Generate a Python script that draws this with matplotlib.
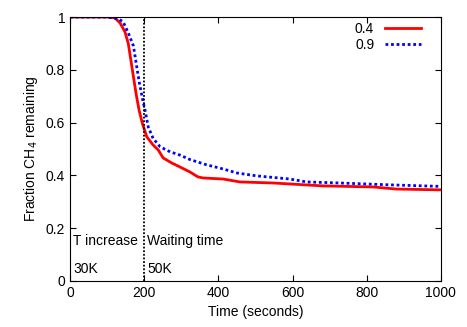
import numpy as np
import matplotlib
matplotlib.use("Agg")
import matplotlib.pyplot as plt

plt.rcParams['font.family'] = ['Liberation Sans', 'DejaVu Sans']

# fraction CH4 remaining
t_red = [0, 50, 100, 121, 135, 148, 157, 164, 171, 178, 186, 195, 207, 224, 238,
         251, 274, 296, 323, 345, 359, 413, 458, 548, 682, 817, 880, 1000]
f_red = [1.0, 1.0, 1.0, 0.997, 0.977, 0.944, 0.90, 0.837, 0.773, 0.71, 0.648, 0.597,
         0.546, 0.515, 0.496, 0.466, 0.447, 0.432, 0.413, 0.394, 0.39, 0.386, 0.375,
         0.371, 0.36, 0.356, 0.348, 0.345]

t_blue = [0, 50, 100, 130, 143, 157, 171, 180, 187, 196, 202, 211, 224, 243, 270,
          296, 323, 368, 413, 450, 503, 593, 638, 727, 862, 1000]
f_blue = [1.0, 1.0, 1.0, 0.993, 0.982, 0.94, 0.89, 0.81, 0.75, 0.686, 0.648, 0.583,
          0.54, 0.508, 0.489, 0.477, 0.46, 0.44, 0.424, 0.409, 0.398, 0.386, 0.375,
          0.371, 0.364, 0.358]

xticks = [0, 200, 400, 600, 800, 1000]
yticks = [0, 0.2, 0.4, 0.6, 0.8, 1]
ylabels = ['0', '0.2', '0.4', '0.6', '0.8', '1']

fig = plt.figure(figsize=(4.67, 3.27), dpi=100)
ax = fig.add_axes([0.150, 0.141, 0.794, 0.807])

ax.plot(t_red, f_red, color='red', lw=2, label='0.4')
ax.plot(t_blue, f_blue, color='blue', lw=2, ls=(0, (1, 1)), label='0.9')
ax.axvline(200, color='black', lw=1.3, ls=(0, (1, 1)))

ax.text(8, 0.15, 'T increase', fontsize=10, va='center')
ax.text(8, 0.045, '30K', fontsize=10, va='center')
ax.text(208, 0.15, 'Waiting time', fontsize=10, va='center')
ax.text(208, 0.045, '50K', fontsize=10, va='center')

ax.set_xlim(0, 1000)
ax.set_ylim(0, 1)
ax.set_xticks(xticks)
ax.set_yticks(yticks)
ax.set_yticklabels(ylabels)
ax.tick_params(direction='in', top=True, right=True, labelsize=10, length=4)
ax.set_xlabel('Time (seconds)', fontsize=10)
ax.set_ylabel('Fraction CH$_4$ remaining', fontsize=10)

ax.legend(loc='upper right', bbox_to_anchor=(0.97, 1.012), frameon=False,
          markerfirst=False, fontsize=10, handlelength=2.6, borderaxespad=0.2,
          labelspacing=0.1)

fig.savefig('out.png', dpi=100)
